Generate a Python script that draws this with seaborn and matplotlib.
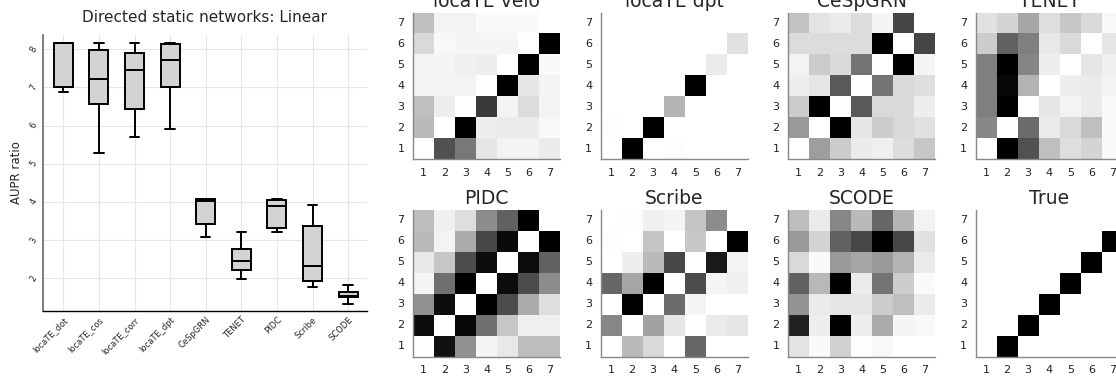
import numpy as np
import pandas as pd
import matplotlib
matplotlib.use("Agg")
import matplotlib.pyplot as plt
import seaborn as sns

sns.set_style("white")
plt.rcParams["font.family"] = ["DejaVu Sans"]

# ---- AUPR ratio summaries per method: [min, Q1, median, Q3, max] ----
methods = ["locaTE_dot", "locaTE_cos", "locaTE_corr", "locaTE_dpt",
           "CeSpGRN", "TENET", "PIDC", "Scribe", "SCODE"]
locaTE_dot = [6.87, 7.00, 8.17, 8.17, 8.17]
locaTE_cos = [5.28, 6.56, 7.23, 7.97, 8.17]
locaTE_corr = [5.69, 6.44, 7.47, 7.91, 8.17]
locaTE_dpt = [5.90, 7.00, 7.72, 8.13, 8.17]
cespgrn = [3.08, 3.41, 4.03, 4.08, 4.09]
tenet = [1.98, 2.22, 2.46, 2.78, 3.21]
pidc = [3.21, 3.32, 3.90, 4.05, 4.09]
scribe = [1.76, 1.92, 2.33, 3.37, 3.93]
scode = [1.34, 1.50, 1.55, 1.64, 1.83]
yticks_box = [2, 3, 4, 5, 6, 7, 8]

# ---- inferred 7x7 networks; row k = target gene k+1 (bottom to top), col = source gene ----
velo = [
    [0.00, 0.68, 0.53, 0.10, 0.05, 0.05, 0.08],
    [0.27, 0.00, 1.00, 0.07, 0.08, 0.08, 0.03],
    [0.25, 0.07, 0.00, 0.77, 0.05, 0.14, 0.05],
    [0.05, 0.04, 0.05, 0.00, 1.00, 0.10, 0.05],
    [0.05, 0.04, 0.06, 0.07, 0.00, 1.00, 0.02],
    [0.15, 0.03, 0.04, 0.04, 0.04, 0.00, 1.00],
    [0.25, 0.05, 0.05, 0.02, 0.02, 0.02, 0.00],
]
dpt = [
    [0.00, 1.00, 0.00, 0.01, 0.00, 0.00, 0.00],
    [0.01, 0.00, 1.00, 0.00, 0.00, 0.00, 0.00],
    [0.00, 0.00, 0.00, 0.30, 0.00, 0.00, 0.00],
    [0.00, 0.00, 0.00, 0.00, 1.00, 0.00, 0.00],
    [0.00, 0.00, 0.00, 0.00, 0.00, 0.08, 0.00],
    [0.00, 0.00, 0.00, 0.00, 0.00, 0.00, 0.12],
    [0.00, 0.00, 0.00, 0.00, 0.00, 0.00, 0.00],
]
cesp = [
    [0.00, 0.38, 0.20, 0.08, 0.06, 0.14, 0.22],
    [0.40, 0.00, 1.00, 0.10, 0.20, 0.15, 0.12],
    [0.20, 1.00, 0.00, 0.65, 0.15, 0.15, 0.07],
    [0.07, 0.10, 0.65, 0.00, 0.55, 0.15, 0.13],
    [0.05, 0.20, 0.15, 0.55, 0.00, 1.00, 0.04],
    [0.14, 0.14, 0.14, 0.14, 1.00, 0.00, 0.73],
    [0.24, 0.11, 0.08, 0.14, 0.04, 0.73, 0.00],
]
tenet_net = [
    [0.00, 1.00, 0.68, 0.25, 0.13, 0.17, 0.03],
    [0.47, 0.00, 0.58, 0.08, 0.15, 0.25, 0.02],
    [0.50, 1.00, 0.00, 0.10, 0.05, 0.08, 0.03],
    [0.50, 0.97, 0.30, 0.00, 0.07, 0.08, 0.05],
    [0.50, 1.00, 0.48, 0.07, 0.00, 0.10, 0.06],
    [0.20, 0.62, 0.50, 0.09, 0.15, 0.00, 0.10],
    [0.12, 0.17, 0.35, 0.13, 0.22, 0.15, 0.03],
]
pidc_net = [
    [0.00, 0.93, 0.43, 0.04, 0.09, 0.26, 0.26],
    [0.95, 0.00, 0.97, 0.56, 0.22, 0.06, 0.06],
    [0.43, 0.95, 0.00, 1.00, 0.70, 0.33, 0.13],
    [0.04, 0.56, 1.00, 0.00, 0.95, 0.70, 0.45],
    [0.09, 0.22, 0.70, 0.95, 0.00, 0.95, 0.62],
    [0.27, 0.05, 0.33, 0.72, 0.96, 0.00, 1.00],
    [0.26, 0.06, 0.13, 0.45, 0.62, 1.00, 0.00],
]
scribe_net = [
    [0.00, 0.27, 0.15, 0.00, 0.60, 0.00, 0.00],
    [0.47, 0.00, 0.37, 0.10, 0.00, 0.08, 0.10],
    [0.00, 1.00, 0.00, 0.58, 0.04, 0.00, 0.00],
    [0.60, 0.35, 1.00, 0.00, 0.70, 0.04, 0.06],
    [0.00, 0.07, 0.27, 0.72, 0.00, 0.90, 0.05],
    [0.01, 0.00, 0.23, 0.00, 0.22, 0.00, 1.00],
    [0.00, 0.01, 0.06, 0.04, 0.23, 0.45, 0.00],
]
scode_net = [
    [0.11, 0.02, 0.18, 0.01, 0.03, 0.00, 0.00],
    [0.87, 0.07, 1.00, 0.07, 0.33, 0.04, 0.03],
    [0.42, 0.08, 0.10, 0.10, 0.20, 0.25, 0.08],
    [0.62, 0.28, 1.00, 0.08, 0.55, 0.20, 0.02],
    [0.15, 0.02, 0.40, 0.35, 0.40, 0.30, 0.08],
    [0.40, 0.17, 0.62, 0.72, 1.00, 0.72, 0.12],
    [0.26, 0.08, 0.47, 0.27, 0.60, 0.29, 0.05],
]
true_net = [
    [0, 1, 0, 0, 0, 0, 0],
    [0, 0, 1, 0, 0, 0, 0],
    [0, 0, 0, 1, 0, 0, 0],
    [0, 0, 0, 0, 1, 0, 0],
    [0, 0, 0, 0, 0, 1, 0],
    [0, 0, 0, 0, 0, 0, 1],
    [0, 0, 0, 0, 0, 0, 0],
]
net_titles = ["locaTE velo", "locaTE dpt", "CeSpGRN", "TENET",
              "PIDC", "Scribe", "SCODE", "True"]
net_mats = [velo, dpt, cesp, tenet_net, pidc_net, scribe_net, scode_net, true_net]
gene_labels = [1, 2, 3, 4, 5, 6, 7]

W, H = 1116, 381
fig = plt.figure(figsize=(W / 100, H / 100), dpi=100)


def px_axes(left, top, right, bottom):
    return fig.add_axes([left / W, 1 - bottom / H, (right - left) / W, (bottom - top) / H])


# ---- boxplot panel ----
summary = {"locaTE_dot": locaTE_dot, "locaTE_cos": locaTE_cos, "locaTE_corr": locaTE_corr,
           "locaTE_dpt": locaTE_dpt, "CeSpGRN": cespgrn, "TENET": tenet, "PIDC": pidc,
           "Scribe": scribe, "SCODE": scode}
df = pd.DataFrame([(m, v) for m in methods for v in summary[m]], columns=["method", "ratio"])

ax = px_axes(43, 35, 367, 311)
ax.set_axisbelow(True)
for x in range(len(methods)):
    ax.axvline(x, color="#e6e6e6", lw=0.8, zorder=0)
for y in yticks_box:
    ax.axhline(y, color="#e6e6e6", lw=0.8, zorder=0)
sns.boxplot(data=df, x="method", y="ratio", order=methods, color="lightgray",
            linecolor="black", linewidth=1.4, width=0.53, whis=(0, 100),
            saturation=1, ax=ax)
ax.set_xlim(-0.57, 8.53)
ax.set_ylim(1.144, 8.374)
ax.set_yticks(yticks_box)
ax.set_yticklabels([str(v) for v in yticks_box], rotation=60, fontsize=6,
                   va="center", ha="right")
ax.set_xticks(range(len(methods)))
ax.set_xticklabels(methods, rotation=45, ha="right", rotation_mode="anchor", fontsize=6)
ax.tick_params(axis="both", direction="in", length=3, width=0.6, color="#333333", pad=3)
ax.set_xlabel("")
ax.set_ylabel("AUPR ratio", fontsize=8.5)
ax.set_title("Directed static networks: Linear", fontsize=11, pad=9)
for s in ["top", "right"]:
    ax.spines[s].set_visible(False)
ax.spines["left"].set_color("#666666")
ax.spines["left"].set_linewidth(1.2)
ax.spines["bottom"].set_color("black")
ax.spines["bottom"].set_linewidth(1.0)

# ---- heatmap grid ----
col_lefts = [412.8, 600.5, 787.8, 975.5]
row_tops = [12.5, 210.0]
cell_w = 147.5
cell_h = 146.7
for i, (title, mat) in enumerate(zip(net_titles, net_mats)):
    r, c = divmod(i, 4)
    hx = px_axes(col_lefts[c], row_tops[r], col_lefts[c] + cell_w, row_tops[r] + cell_h)
    sns.heatmap(np.array(mat, dtype=float), cmap="gray_r", vmin=0, vmax=1, cbar=False,
                xticklabels=gene_labels, yticklabels=gene_labels, ax=hx)
    hx.set_ylim(0, 7)
    hx.set_xlim(0, 7)
    hx.tick_params(axis="both", length=0, labelsize=8, pad=6, colors="#222222")
    hx.tick_params(axis="y", labelrotation=0)
    hx.tick_params(axis="x", labelrotation=0)
    for s in ["left", "bottom"]:
        hx.spines[s].set_visible(True)
        hx.spines[s].set_color("#888888")
        hx.spines[s].set_linewidth(1.0)
    hx.set_title(title, fontsize=13.5, pad=4)

fig.savefig("out.png", dpi=100)
